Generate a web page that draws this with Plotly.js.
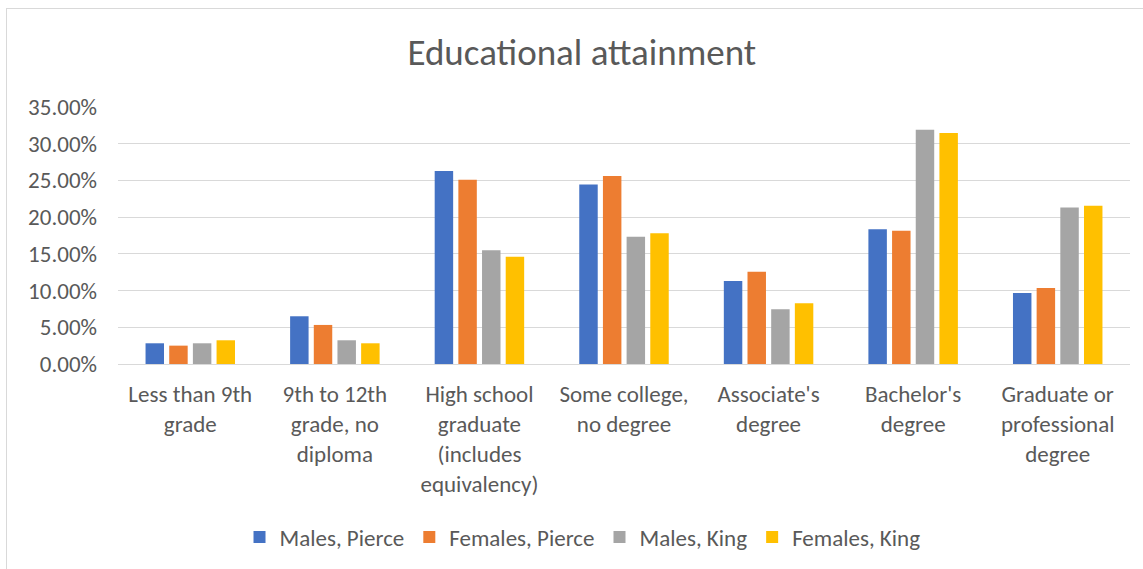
<!DOCTYPE html>
<html>
<head>
<meta charset="utf-8">
<script src="https://cdn.plot.ly/plotly-3.0.1.min.js"></script>
<style>
  html, body { margin: 0; padding: 0; background: #ffffff; }
  #frame { position: absolute; left: 6px; top: 8px; width: 1140px; height: 565px; border: 1px solid #d9d9d9; box-sizing: border-box; }
  #chart { position: absolute; left: 0; top: 0; width: 1143px; height: 569px; }
</style>
</head>
<body>
<div id="frame"></div>
<div id="chart"></div>
<script>
const categories = [
  "Less than 9th<br>grade",
  "9th to 12th<br>grade, no<br>diploma",
  "High school<br>graduate<br>(includes<br>equivalency)",
  "Some college,<br>no degree",
  "Associate's<br>degree",
  "Bachelor's<br>degree",
  "Graduate or<br>professional<br>degree"
];
const seriesNames = ["Males, Pierce", "Females, Pierce", "Males, King", "Females, King"];
const malesPierce   = [0.0282, 0.0650, 0.2627, 0.2445, 0.1132, 0.1836, 0.0968];
const femalesPierce = [0.0250, 0.0532, 0.2509, 0.2559, 0.1255, 0.1814, 0.1036];
const malesKing     = [0.0282, 0.0323, 0.1550, 0.1732, 0.0745, 0.3190, 0.2132];
const femalesKing   = [0.0323, 0.0282, 0.1459, 0.1782, 0.0827, 0.3145, 0.2155];
const colors = ["#4472C4", "#ED7D31", "#A5A5A5", "#FFC000"];
const yTicks = [0, 0.05, 0.10, 0.15, 0.20, 0.25, 0.30, 0.35];

const font = "Carlito, Calibri, Lato, 'Open Sans', sans-serif";
const allValues = [malesPierce, femalesPierce, malesKing, femalesKing];
const data = allValues.map((vals, i) => ({
  type: "bar",
  name: seriesNames[i],
  x: categories,
  y: vals,
  marker: { color: colors[i] },
  hoverinfo: "skip"
}));

const layout = {
  width: 1143,
  height: 569,
  paper_bgcolor: "rgba(0,0,0,0)",
  plot_bgcolor: "rgba(0,0,0,0)",
  margin: { l: 118, r: 13, t: 107, b: 204 },
  font: { family: font, color: "#595959", size: 23 },
  title: {
    text: "Educational attainment",
    font: { family: font, size: 37, color: "#595959" },
    x: 0.509, xanchor: "center",
    y: 0.909, yanchor: "middle"
  },
  barmode: "group",
  bargap: 0.345,
  bargroupgap: 0.22,
  xaxis: {
    type: "category",
    tickfont: { family: font, size: 23, color: "#595959" },
    showgrid: false,
    showline: false,
    ticks: "",
    tickangle: 0,
    ticklabelstandoff: 14,
    fixedrange: true
  },
  yaxis: {
    range: [0, 0.35],
    tickvals: yTicks,
    tickformat: ".2%",
    tickfont: { family: font, size: 23, color: "#595959" },
    showgrid: true,
    gridcolor: "#d9d9d9",
    gridwidth: 1,
    zeroline: true,
    zerolinecolor: "#d9d9d9",
    zerolinewidth: 1,
    showline: false,
    ticks: "",
    ticklen: 0,
    ticklabelstandoff: 20,
    fixedrange: true
  },
  legend: {
    orientation: "h",
    x: 0.459, xanchor: "center",
    y: -0.667, yanchor: "middle",
    font: { family: font, size: 23, color: "#595959" },
    traceorder: "normal"
  },
  showlegend: true
};

Plotly.newPlot("chart", data, layout, { displayModeBar: false, staticPlot: true });
</script>
</body>
</html>
